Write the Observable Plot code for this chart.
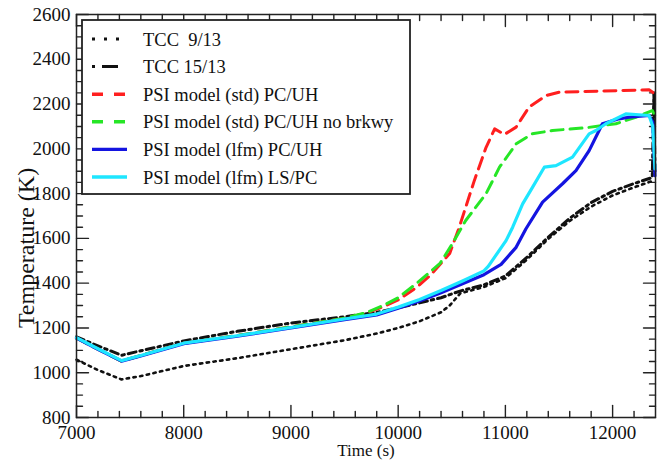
<!DOCTYPE html>
<html>
<head>
<meta charset="utf-8">
<script src="https://cdn.jsdelivr.net/npm/d3@7"></script>
<script src="https://cdn.jsdelivr.net/npm/@observablehq/plot@0.6"></script>
<style>
  body { margin: 0; background: #fff; }
  #chart { position: relative; width: 663px; height: 460px; }
  #chart svg { display: block; }
  #chart svg text { font-family: "Liberation Serif", "DejaVu Serif", serif; }
</style>
</head>
<body>
<div id="chart"></div>
<script>
// Temperature histories (time in s, temperature in K)
const tcc913 = [[7000,1058],[7200,1012],[7420,970],[7600,985],[8000,1030],[8500,1065],[9000,1105],[9500,1145],[9800,1175],[10000,1200],[10200,1230],[10400,1270],[10480,1300],[10580,1355],[10800,1383],[11000,1422],[11200,1505],[11400,1598],[11600,1678],[11800,1742],[12000,1792],[12200,1828],[12380,1858]];
const tcc1513 = [[7000,1160],[7200,1120],[7420,1078],[7600,1098],[8000,1142],[8500,1185],[9000,1222],[9500,1250],[9800,1270],[10000,1290],[10200,1312],[10400,1335],[10500,1352],[10600,1368],[10800,1392],[11000,1432],[11200,1515],[11400,1605],[11600,1690],[11800,1760],[12000,1810],[12200,1845],[12370,1872],[12385,2250],[12395,1900]];
const stdPcUh = [[7000,1155],[7200,1105],[7420,1052],[7600,1077],[8000,1132],[8500,1166],[9000,1205],[9500,1243],[9700,1266],[9860,1295],[10000,1325],[10170,1380],[10300,1435],[10480,1532],[10570,1650],[10710,1858],[10820,2007],[10900,2089],[10990,2064],[11100,2097],[11220,2186],[11380,2238],[11500,2253],[12060,2260],[12340,2264],[12395,2245]];
const stdPcUhNoBrkwy = [[7000,1155],[7200,1105],[7420,1052],[7600,1077],[8000,1132],[8500,1166],[9000,1205],[9500,1243],[9700,1268],[9860,1300],[10000,1335],[10170,1398],[10390,1488],[10510,1580],[10630,1680],[10820,1800],[10945,1918],[11100,2022],[11250,2067],[11440,2082],[11750,2094],[12030,2112],[12215,2141],[12370,2171],[12395,2150]];
const lfmPcUh = [[7000,1155],[7200,1105],[7420,1052],[7600,1075],[8000,1130],[8500,1163],[9000,1200],[9500,1237],[9800,1258],[10000,1288],[10200,1320],[10400,1357],[10600,1397],[10800,1438],[10960,1484],[11100,1560],[11192,1643],[11347,1762],[11533,1844],[11658,1903],[11781,1992],[11905,2112],[12060,2134],[12153,2141],[12340,2149],[12375,2120],[12395,1880]];
const lfmLsPc = [[7000,1157],[7200,1107],[7420,1054],[7600,1077],[8000,1132],[8500,1165],[9000,1202],[9500,1240],[9800,1262],[10000,1293],[10200,1327],[10400,1367],[10600,1410],[10800,1455],[10840,1475],[11006,1590],[11068,1650],[11161,1754],[11254,1829],[11363,1918],[11472,1925],[11626,1963],[11781,2067],[11844,2082],[11937,2112],[12123,2156],[12340,2149],[12375,2100],[12395,1910]];

const seriesLabels = ["TCC  9/13", "TCC 15/13", "PSI model (std) PC/UH", "PSI model (std) PC/UH no brkwy", "PSI model (lfm) PC/UH", "PSI model (lfm) LS/PC"];
const seriesData = [tcc913, tcc1513, stdPcUh, stdPcUhNoBrkwy, lfmPcUh, lfmLsPc];

const xTicks = [7000, 8000, 9000, 10000, 11000, 12000];
const yTicks = [800, 1000, 1200, 1400, 1600, 1800, 2000, 2200, 2400, 2600];

// Line styles for each series
const styles = [
  {stroke: "#111", strokeWidth: 2.6, strokeDasharray: "2.4,4.4", legendDash: "3,9", legendEnd: 120},
  {stroke: "#111", strokeWidth: 3, strokeDasharray: "8,4,2.5,4", legendDash: "3,7,16,100", legendEnd: 119},
  {stroke: "#ff1f1f", strokeWidth: 3, strokeDasharray: "12,7", legendDash: "11,11", legendEnd: 127},
  {stroke: "#26e626", strokeWidth: 3, strokeDasharray: "12,7", legendDash: "11,11", legendEnd: 127},
  {stroke: "#1414e0", strokeWidth: 3.2, strokeDasharray: null, legendDash: null, legendEnd: 127},
  {stroke: "#1ee6ff", strokeWidth: 3.2, strokeDasharray: null, legendDash: null, legendEnd: 127}
];

const rows = seriesData.map((s, i) => s.map(([t, T]) => ({series: seriesLabels[i], t, T})));

const xMinor = d3.range(7200, 12400, 200).filter(v => v % 1000 !== 0);
const yMinor = d3.range(850, 2600, 50).filter(v => v % 200 !== 0);

// Inward tick shape for the vector mark
const tickShape = {draw(ctx, l) { ctx.moveTo(0, 0); ctx.lineTo(0, -l); }};
const tickInk = {stroke: "#222", strokeWidth: 1.4, anchor: "start", shape: tickShape};
function ticksOn(values, side, length) {
  const rot = {bottom: 0, top: 180, left: 90, right: -90}[side];
  const ch = (side === "bottom" || side === "top") ? {x: d => d} : {y: d => d};
  return Plot.vector(values, {...ch, frameAnchor: side, rotate: rot, length, ...tickInk});
}

const serif = "'Liberation Serif', 'DejaVu Serif', serif";

const plot = Plot.plot({
  width: 663,
  height: 460,
  marginLeft: 76,
  marginRight: 8,
  marginTop: 14,
  marginBottom: 43,
  style: {fontFamily: serif, fontSize: "19px", color: "#111", background: "#fff"},
  x: {domain: [7000, 12400]},
  y: {domain: [800, 2600]},
  marks: [
    Plot.axisX(xTicks, {tickSize: 0, tickPadding: 8, label: null, fontSize: 19, tickFormat: d => String(d)}),
    Plot.axisY(yTicks, {tickSize: 0, tickPadding: 6, label: null, fontSize: 19, tickFormat: d => String(d)}),
    ...["bottom", "top"].flatMap(s => [ticksOn(xTicks, s, 12), ticksOn(xMinor, s, 6)]),
    ...["left", "right"].flatMap(s => [ticksOn(yTicks, s, 12), ticksOn(yMinor, s, 6)]),
    ...rows.map((r, i) => Plot.line(r, {
      x: "t", y: "T",
      stroke: styles[i].stroke,
      strokeWidth: styles[i].strokeWidth,
      strokeDasharray: styles[i].strokeDasharray,
      strokeLinejoin: "round"
    })),
    Plot.frame({stroke: "#222", strokeWidth: 1.5}),
    Plot.text(["Time (s)"], {frameAnchor: "bottom", textAnchor: "middle", lineAnchor: "middle", dy: 33, fontSize: 17}),
    Plot.text(["Temperature (K)"], {frameAnchor: "left", textAnchor: "middle", lineAnchor: "middle", rotate: -90, dx: -50, dy: 32, fontSize: 24})
  ]
});

const chart = document.getElementById("chart");
chart.append(plot);

// Boxed legend drawn over the upper-left corner of the plot
const legend = d3.create("svg")
  .attr("width", 663).attr("height", 460)
  .style("position", "absolute").style("left", "0px").style("top", "0px")
  .style("pointer-events", "none");
legend.append("rect")
  .attr("x", 82).attr("y", 20).attr("width", 328).attr("height", 174)
  .attr("fill", "#fff").attr("stroke", "#222").attr("stroke-width", 1.8);
const rowsG = legend.selectAll("g.item").data(seriesLabels).join("g")
  .attr("transform", (d, i) => `translate(0, ${39 + i * 27.6})`);
rowsG.append("line")
  .attr("x1", 92).attr("x2", (d, i) => styles[i].legendEnd)
  .attr("y1", 0).attr("y2", 0)
  .attr("stroke", (d, i) => styles[i].stroke)
  .attr("stroke-width", (d, i) => i < 2 ? 3 : 3.4)
  .attr("stroke-dasharray", (d, i) => styles[i].legendDash);
rowsG.append("text")
  .attr("x", 143).attr("y", 6.5)
  .style("white-space", "pre")
  .attr("font-size", 18.5).attr("fill", "#111")
  .text(d => d);
chart.append(legend.node());
</script>
</body>
</html>
